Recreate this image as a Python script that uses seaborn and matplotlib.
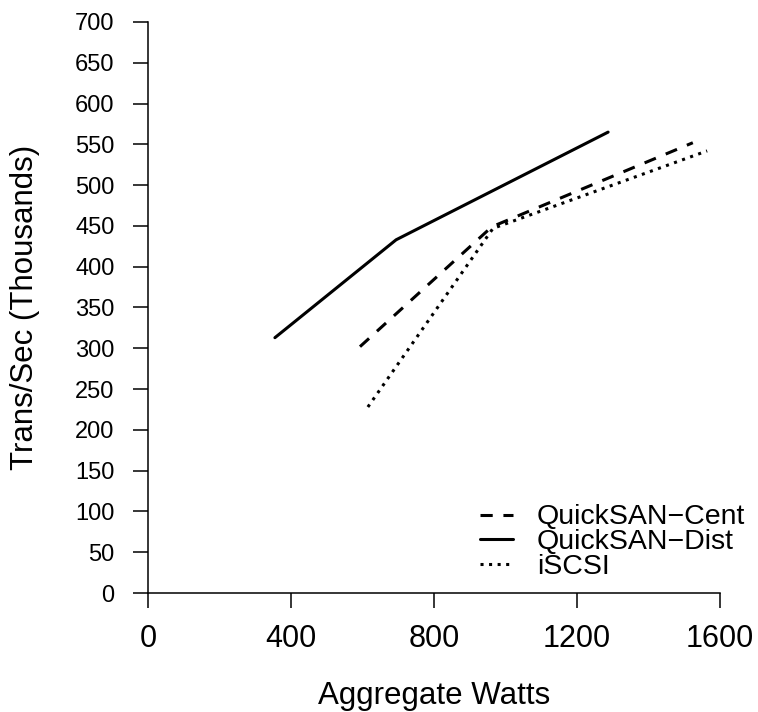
import matplotlib
matplotlib.use("Agg")
import matplotlib.pyplot as plt
import seaborn as sns
import pandas as pd

# datos
series = ["QuickSAN\u2212Cent", "QuickSAN\u2212Dist", "iSCSI"]
watts_cent = [593, 962, 1524]
trans_cent = [302, 449, 552]
watts_dist = [355, 694, 1287]
trans_dist = [313, 433, 565]
watts_iscsi = [615, 965, 1564]
trans_iscsi = [228, 447, 542]

x_ticks = [0, 400, 800, 1200, 1600]
y_ticks = list(range(0, 701, 50))

df = pd.DataFrame({
    "watts": watts_cent + watts_dist + watts_iscsi,
    "trans": trans_cent + trans_dist + trans_iscsi,
    "serie": [series[0]] * 3 + [series[1]] * 3 + [series[2]] * 3,
})

sns.set_style("ticks")
plt.rcParams["font.family"] = ["Liberation Sans", "DejaVu Sans"]
plt.rcParams["text.color"] = "black"
plt.rcParams["axes.labelcolor"] = "black"
plt.rcParams["xtick.color"] = "black"
plt.rcParams["ytick.color"] = "black"
plt.rcParams["axes.edgecolor"] = "black"

fig = plt.figure(figsize=(7.58, 7.12), dpi=100)
ax = fig.add_axes([148 / 758, 1 - 593 / 712, 572 / 758, 571 / 712])

estilos = {series[0]: (4, 3.5), series[1]: "", series[2]: (1, 1.8)}
sns.lineplot(data=df, x="watts", y="trans", style="serie", style_order=series,
             dashes=estilos, color="black", linewidth=2.2, sort=False,
             markers=False, legend=True, ax=ax)

ax.set_xlim(0, 1600)
ax.set_ylim(0, 700)
ax.set_xticks(x_ticks)
ax.set_yticks(y_ticks)
ax.tick_params(axis="x", labelsize=22, length=11, width=1.1, pad=11)
ax.tick_params(axis="y", labelsize=17, length=11, width=1.1, pad=13)
for s in ["top", "right"]:
    ax.spines[s].set_visible(False)
for s in ["left", "bottom"]:
    ax.spines[s].set_linewidth(1.1)

ax.set_xlabel("Aggregate Watts", fontsize=22.5)
ax.set_ylabel("Trans/Sec (Thousands)", fontsize=22.5)
ax.xaxis.label.set_va("center")
ax.yaxis.label.set_va("center")
ax.xaxis.set_label_coords(0.5, -0.18)
ax.yaxis.set_label_coords(-0.215, 0.5)

handles, labels = ax.get_legend_handles_labels()
leg = ax.legend(handles, labels, loc="upper left", bbox_to_anchor=(0.58, 0.155),
                frameon=False, fontsize=20.5, handlelength=1.15, handletextpad=0.85,
                labelspacing=-0.05, borderpad=0, borderaxespad=0)

fig.savefig("out.png", dpi=100)
